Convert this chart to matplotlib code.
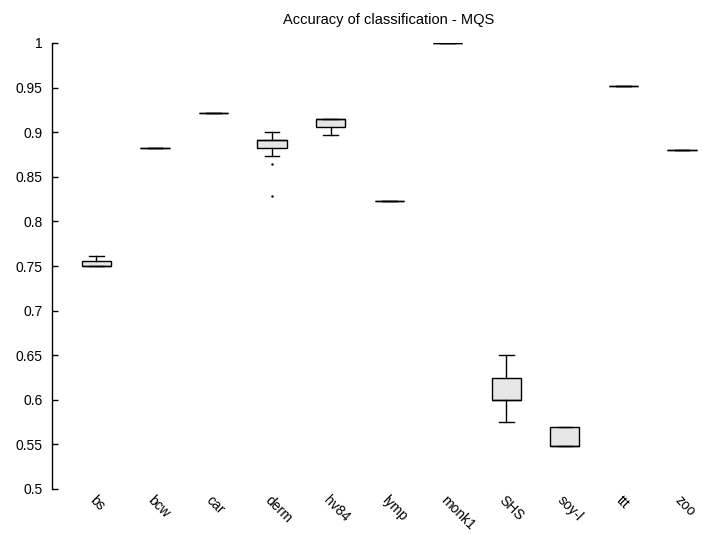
import matplotlib
matplotlib.use('Agg')
import matplotlib.pyplot as plt

plt.rcParams['font.family'] = ['Liberation Sans', 'DejaVu Sans']

datasets = ['bs', 'bcw', 'car', 'derm', 'hv84', 'lymp', 'monk1', 'SHS', 'soy-l', 'ttt', 'zoo']
# box stats
whislo = [0.750, 0.882, 0.9215, 0.873, 0.897, 0.823, 1.000, 0.575, 0.548, 0.952, 0.880]
q1 = [0.750, 0.882, 0.9215, 0.882, 0.9055, 0.823, 1.000, 0.600, 0.548, 0.952, 0.880]
med = [0.750, 0.882, 0.9215, 0.891, 0.915, 0.823, 1.000, 0.600, 0.548, 0.952, 0.880]
q3 = [0.756, 0.882, 0.9215, 0.891, 0.915, 0.823, 1.000, 0.625, 0.570, 0.952, 0.880]
whishi = [0.761, 0.882, 0.9215, 0.900, 0.915, 0.823, 1.000, 0.650, 0.570, 0.952, 0.880]
fliers = [[], [], [], [0.864, 0.828], [], [], [], [], [], [], []]

stats = []
for i, name in enumerate(datasets):
    stats.append({'label': name, 'whislo': whislo[i], 'q1': q1[i], 'med': med[i],
                  'q3': q3[i], 'whishi': whishi[i], 'fliers': fliers[i]})

fig = plt.figure(figsize=(7.03, 5.34), dpi=100)
ax = fig.add_axes([52 / 703, 1 - 489 / 534, 1 - 52 / 703, (489 - 43) / 534])

ax.bxp(stats, positions=range(1, len(datasets) + 1), widths=0.5, patch_artist=True,
       boxprops=dict(facecolor='#e6e6e6', edgecolor='black', linewidth=1),
       medianprops=dict(color='black', linewidth=1),
       whiskerprops=dict(color='black', linewidth=1),
       capprops=dict(color='black', linewidth=1),
       flierprops=dict(marker='.', markersize=1.5, color='black', markerfacecolor='black',
                       markeredgecolor='black'))

ax.set_xlim(0.24, 11.36)
ax.set_ylim(0.5, 1.0)
ax.set_yticks([0.5, 0.55, 0.6, 0.65, 0.7, 0.75, 0.8, 0.85, 0.9, 0.95, 1.0])
ax.set_yticklabels(['0.5', '0.55', '0.6', '0.65', '0.7', '0.75', '0.8', '0.85', '0.9', '0.95', '1'])
ax.tick_params(axis='y', direction='in', length=4.5, width=1, labelsize=10, pad=7)
ax.tick_params(axis='x', length=0, labelsize=10, pad=3)
ax.set_xticks(range(1, len(datasets) + 1))
ax.set_xticklabels(datasets, rotation=-45, ha='left', va='top', rotation_mode='anchor')

for side in ['top', 'right', 'bottom']:
    ax.spines[side].set_visible(False)
ax.spines['left'].set_linewidth(1)

fig.text(389 / 703, 1 - 20 / 534, 'Accuracy of classification - MQS', ha='center', va='center', fontsize=10.5)

plt.savefig('out.png', dpi=100)
